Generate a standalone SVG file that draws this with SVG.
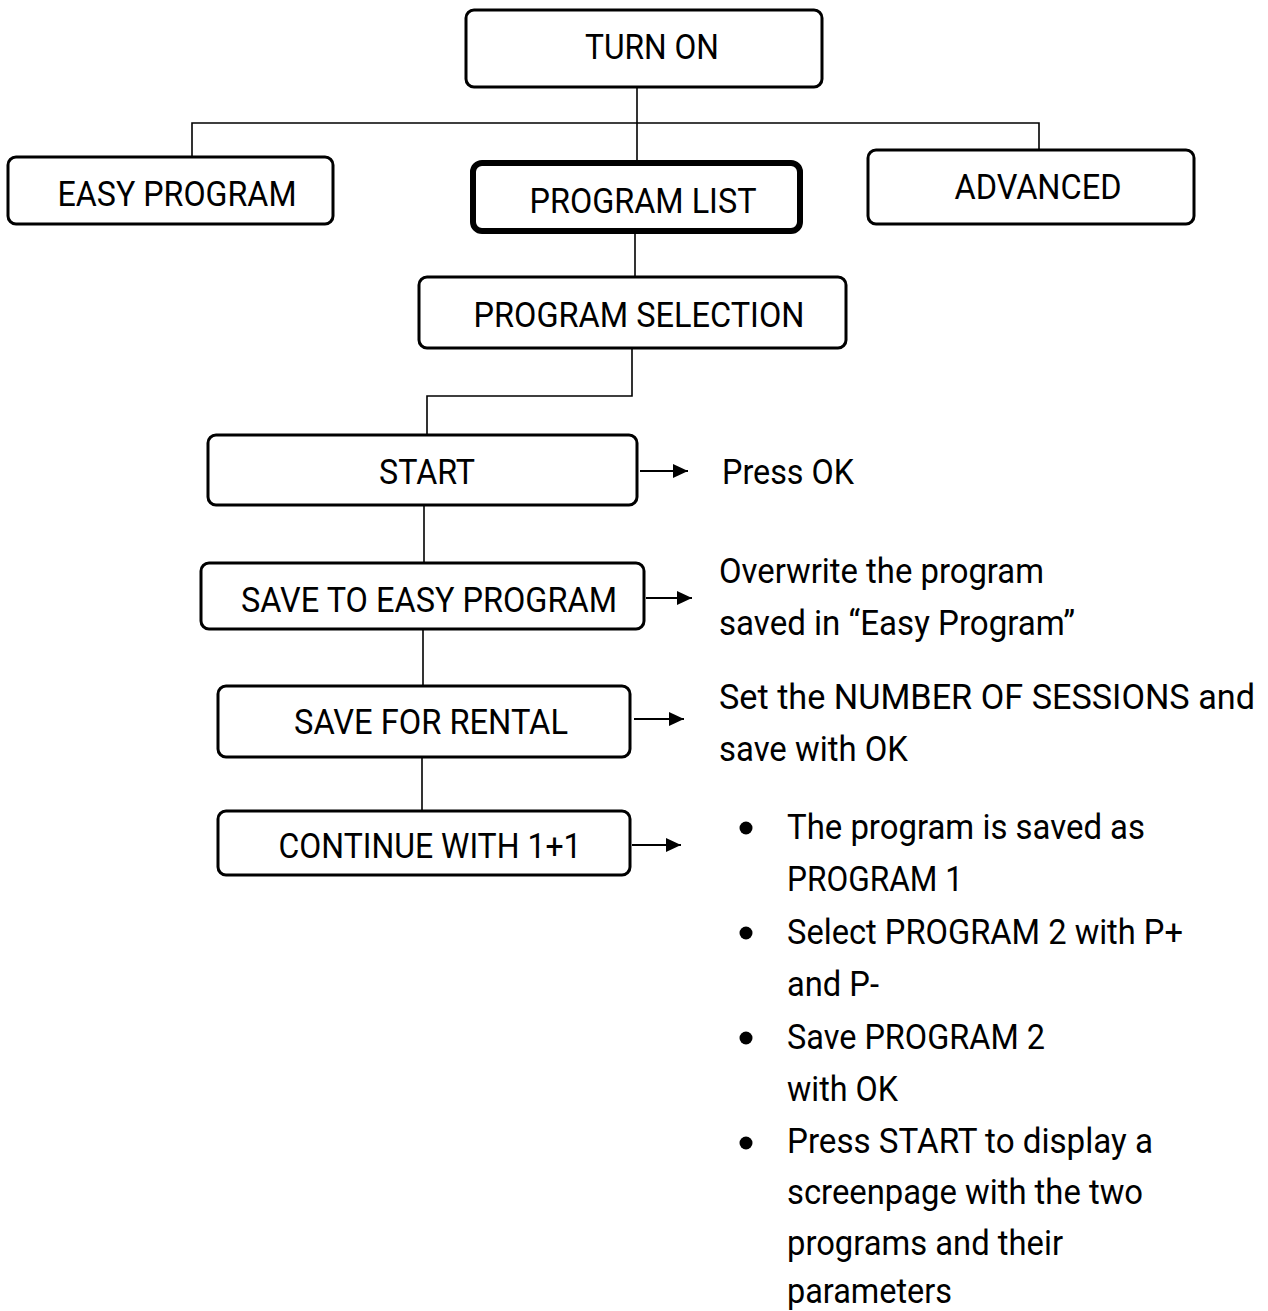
<svg xmlns="http://www.w3.org/2000/svg" width="1268" height="1311" viewBox="0 0 1268 1311">
<defs>
<style>
.box{fill:#fff;stroke:#000;stroke-width:3}
.thick{fill:#fff;stroke:#000;stroke-width:6}
.ln{fill:none;stroke:#000;stroke-width:1.6}
.ar{fill:none;stroke:#000;stroke-width:2}
.t{font-family:Roboto,"Liberation Sans",sans-serif;font-size:35px;fill:#000}
.c{text-anchor:middle}
</style>
<marker id="ah" viewBox="0 0 15 14" refX="15" refY="7" markerWidth="15" markerHeight="14" markerUnits="userSpaceOnUse" orient="auto">
<path d="M0,0 L15,7 L0,14 Z" fill="#000"/>
</marker>
</defs>
<rect width="1268" height="1311" fill="#fff"/>
<g id="connectors">
<path class="ln" d="M637,87 V162"/>
<path class="ln" d="M192,157 V123 H1039 V150"/>
<path class="ln" d="M635,233 V277"/>
<path class="ln" d="M632,348 V396 H427 V435"/>
<path class="ln" d="M424,505 V563"/>
<path class="ln" d="M423,629 V686"/>
<path class="ln" d="M422,757 V811"/>
<path class="ar" d="M640,471 H688" marker-end="url(#ah)"/>
<path class="ar" d="M646,598 H692" marker-end="url(#ah)"/>
<path class="ar" d="M634,719 H684" marker-end="url(#ah)"/>
<path class="ar" d="M632,845 H681" marker-end="url(#ah)"/>
</g>
<g id="turn-on"><rect class="box" x="466" y="10" width="356" height="77" rx="8"/><text class="t c" x="652" y="59" textLength="134" lengthAdjust="spacingAndGlyphs">TURN ON</text></g>
<g id="easy-program"><rect class="box" x="8" y="157" width="325" height="67" rx="8"/><text class="t c" x="177" y="206" textLength="239" lengthAdjust="spacingAndGlyphs">EASY PROGRAM</text></g>
<g id="program-list"><rect class="thick" x="473" y="163" width="327" height="68" rx="9"/><text class="t c" x="643" y="213" textLength="227" lengthAdjust="spacingAndGlyphs">PROGRAM LIST</text></g>
<g id="advanced"><rect class="box" x="868" y="150" width="326" height="74" rx="8"/><text class="t c" x="1038" y="199" textLength="167" lengthAdjust="spacingAndGlyphs">ADVANCED</text></g>
<g id="program-selection"><rect class="box" x="419" y="277" width="427" height="71" rx="8"/><text class="t c" x="639" y="327" textLength="331" lengthAdjust="spacingAndGlyphs">PROGRAM SELECTION</text></g>
<g id="start"><rect class="box" x="208" y="435" width="429" height="70" rx="8"/><text class="t c" x="427" y="484" textLength="96" lengthAdjust="spacingAndGlyphs">START</text></g>
<g id="save-easy"><rect class="box" x="201" y="563" width="443" height="66" rx="8"/><text class="t c" x="429" y="612" textLength="376" lengthAdjust="spacingAndGlyphs">SAVE TO EASY PROGRAM</text></g>
<g id="save-rental"><rect class="box" x="218" y="686" width="412" height="71" rx="8"/><text class="t c" x="431" y="734" textLength="274" lengthAdjust="spacingAndGlyphs">SAVE FOR RENTAL</text></g>
<g id="continue"><rect class="box" x="218" y="811" width="412" height="64" rx="8"/><text class="t c" x="430" y="858" textLength="303" lengthAdjust="spacingAndGlyphs">CONTINUE WITH 1+1</text></g>
<g id="notes">
<text class="t" x="722" y="484" textLength="132" lengthAdjust="spacingAndGlyphs">Press OK</text>
<text class="t" x="719" y="583" textLength="325" lengthAdjust="spacingAndGlyphs">Overwrite the program</text>
<text class="t" x="719" y="635" textLength="356" lengthAdjust="spacingAndGlyphs">saved in “Easy Program”</text>
<text class="t" x="719" y="709" textLength="536" lengthAdjust="spacingAndGlyphs">Set the NUMBER OF SESSIONS and</text>
<text class="t" x="719" y="761" textLength="189" lengthAdjust="spacingAndGlyphs">save with OK</text>
<circle cx="746" cy="828" r="6.5"/>
<circle cx="746" cy="933" r="6.5"/>
<circle cx="746" cy="1038" r="6.5"/>
<circle cx="746" cy="1143" r="6.5"/>
<text class="t" x="787" y="839" textLength="358" lengthAdjust="spacingAndGlyphs">The program is saved as</text>
<text class="t" x="787" y="891" textLength="176" lengthAdjust="spacingAndGlyphs">PROGRAM 1</text>
<text class="t" x="787" y="944" textLength="396" lengthAdjust="spacingAndGlyphs">Select PROGRAM 2 with P+</text>
<text class="t" x="787" y="996" textLength="92" lengthAdjust="spacingAndGlyphs">and P-</text>
<text class="t" x="787" y="1049" textLength="258" lengthAdjust="spacingAndGlyphs">Save PROGRAM 2</text>
<text class="t" x="787" y="1101" textLength="111" lengthAdjust="spacingAndGlyphs">with OK</text>
<text class="t" x="787" y="1153" textLength="366" lengthAdjust="spacingAndGlyphs">Press START to display a</text>
<text class="t" x="787" y="1204" textLength="356" lengthAdjust="spacingAndGlyphs">screenpage with the two</text>
<text class="t" x="787" y="1255" textLength="276" lengthAdjust="spacingAndGlyphs">programs and their</text>
<text class="t" x="787" y="1303" textLength="165" lengthAdjust="spacingAndGlyphs">parameters</text>
</g>
</svg>
